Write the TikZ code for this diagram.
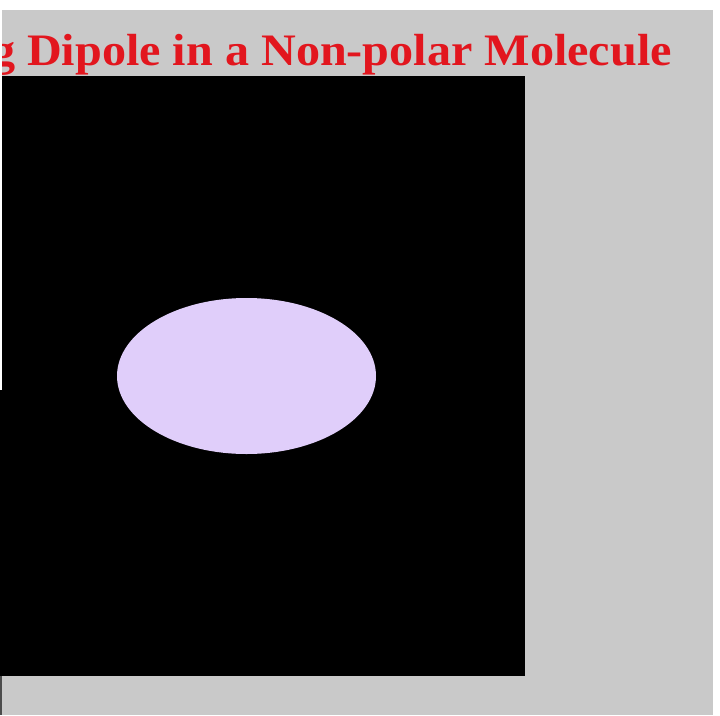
\documentclass[tikz,border=0pt]{standalone}
\usepackage{fontspec}
\setmainfont{Liberation Serif}
\definecolor{bggray}{RGB}{201,201,201}
\definecolor{titlered}{RGB}{226,22,30}
\definecolor{lavender}{RGB}{224,206,250}
\begin{document}
\begin{tikzpicture}[x=1pt,y=-1pt]
\useasboundingbox (0,0) rectangle (720,715);
\fill[white] (0,0) rectangle (720,715);
\fill[bggray] (2,10) rectangle (713,715);
\fill[black] (2,76) rectangle (525,676);
\fill[black] (0,390) rectangle (2,676);
\fill[black!70] (0,676) rectangle (2,715);
\fill[lavender] (246.5,376) ellipse [x radius=129.5, y radius=78];
\begin{scope}
\clip (2,10) rectangle (713,76);
\node[anchor=base east, inner sep=0pt, text=titlered, font=\fontsize{45}{50}\selectfont\bfseries] (title) at (672,65) {\scalebox{1.07}[1]{g Dipole in a Non-polar Molecule}};
\end{scope}
\end{tikzpicture}
\end{document}
